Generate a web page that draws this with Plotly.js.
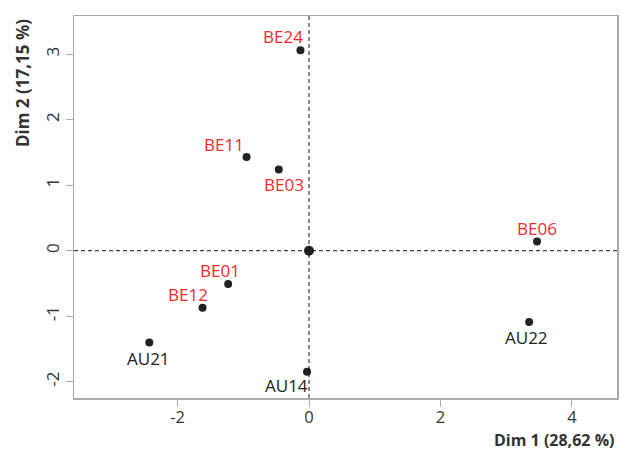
<!DOCTYPE html>
<html><head><meta charset="utf-8">
<script src="https://cdn.plot.ly/plotly-3.0.1.min.js"></script>
<style>html,body{margin:0;padding:0;background:#fff}#plot{width:620px;height:450px}</style>
</head><body><div id="plot"></div>
<script>
const labels = ["BE24","BE11","BE03","BE06","BE01","BE12","AU21","AU14","AU22"];
const dim1 = [-0.13,-0.95,-0.46,3.47,-1.23,-1.62,-2.43,-0.03,3.35];
const dim2 = [3.06,1.43,1.24,0.14,-0.51,-0.87,-1.40,-1.85,-1.09];
const groups = ["BE","BE","BE","BE","BE","BE","AU","AU","AU"];
// label offsets from the point, in pixels (right, down)
const labelDx = [-17,-23,5,0,-8,-15,-1,-21,-3];
const labelDy = [-14,-13,15,-13,-14,-13,16,14,15];
const origin = {x:[0], y:[0]};
const xTicks = [-2,0,2,4];
const yTicks = [-2,-1,0,1,2,3];
const xTitle = "Dim 1 (28,62 %)";
const yTitle = "Dim 2 (17,15 %)";

const red = "#ee2a2e", dark = "#222222";
const font = "Open Sans, Noto Sans, sans-serif";

const traces = [{
  type:"scatter", mode:"markers",
  x: dim1, y: dim2,
  marker:{color:dark, size:8},
  hoverinfo:"none"
},{
  type:"scatter", mode:"markers", x: origin.x, y: origin.y,
  marker:{color:dark, size:10}, hoverinfo:"none"
}];

const axisCommon = {
  showgrid:false, zeroline:false, showline:true, mirror:true,
  linecolor:"#aaaaaa", linewidth:1.5, ticks:"outside", ticklen:7, tickcolor:"#aaaaaa",
  tickfont:{family:font, size:17, color:"#333"}
};

const labelAnns = labels.map((t,i) => ({
  text:t, x:dim1[i], y:dim2[i], xref:"x", yref:"y",
  xshift:labelDx[i], yshift:-labelDy[i], xanchor:"center", yanchor:"middle",
  showarrow:false, font:{family:font, size:17, color: groups[i]==="BE"?red:dark}
}));

const layout = {
  width:620, height:450, showlegend:false,
  paper_bgcolor:"#fff", plot_bgcolor:"#fff",
  margin:{l:74, r:3, t:16, b:52},
  xaxis: Object.assign({}, axisCommon, {range:[-3.576,4.687], tickvals:xTicks, ticktext:xTicks.map(String), ticklabelstandoff:-3, tickfont:{family:font, size:16.5, color:"#333"}}),
  yaxis: Object.assign({}, axisCommon, {range:[-2.249,3.583], tickvals:yTicks, ticktext:yTicks.map(String), tickangle:-90}),
  shapes:[
    {type:"line", xref:"x", yref:"paper", x0:0, x1:0, y0:0, y1:1, line:{color:"#111", width:1, dash:"4px,3px"}},
    {type:"line", xref:"paper", yref:"y", x0:0, x1:1, y0:0, y1:0, line:{color:"#111", width:1, dash:"4px,3px"}}
  ],
  annotations: labelAnns.concat([
    {text:"<b>"+xTitle+"</b>", xref:"paper", yref:"paper", x:0.998, xanchor:"right", y:-0.109, yanchor:"middle", showarrow:false, font:{family:font, size:16, color:"#333"}},
    {text:"<b>"+yTitle+"</b>", xref:"paper", yref:"paper", x:-0.096, xanchor:"center", y:0.997, yanchor:"top", textangle:-90, showarrow:false, font:{family:font, size:17, color:"#333"}}
  ])
};
Plotly.newPlot("plot", traces, layout, {displayModeBar:false, staticPlot:true});
</script></body></html>
